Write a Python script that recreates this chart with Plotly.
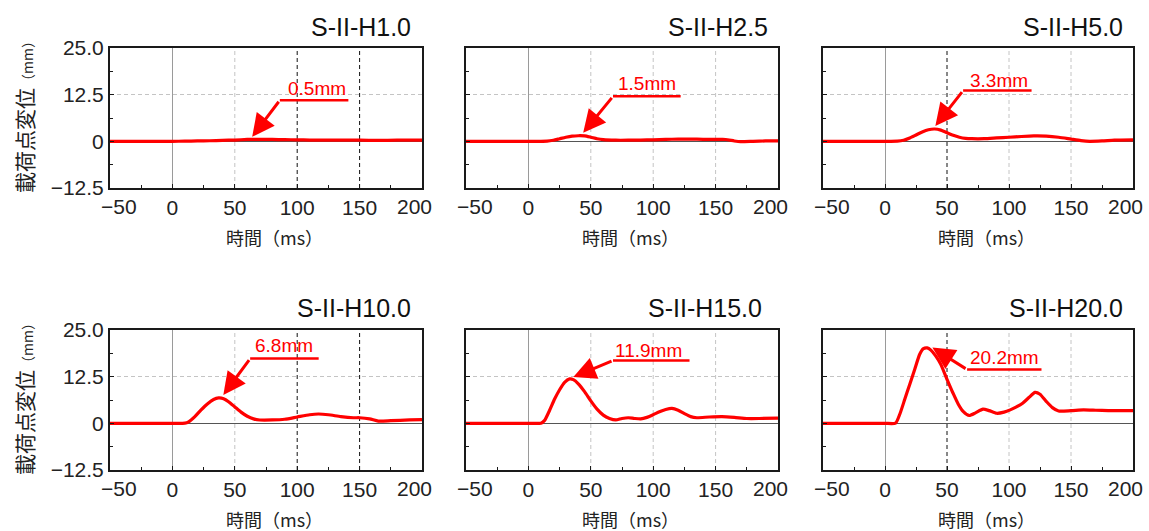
import plotly.graph_objects as go

W, H = 1149, 531

# ---------------- data ----------------
titles = ["S-II-H1.0", "S-II-H2.5", "S-II-H5.0", "S-II-H10.0", "S-II-H15.0", "S-II-H20.0"]
peak_labels = ["0.5mm", "1.5mm", "3.3mm", "6.8mm", "11.9mm", "20.2mm"]

t_h1 = [-50, -30, -10, 0, 10, 20, 30, 40, 50, 60, 70, 80, 90, 100, 110, 120, 135, 150, 165, 180, 200]
d_h1 = [0.0, 0.0, 0.0, 0.0, 0.05, 0.1, 0.15, 0.25, 0.35, 0.5, 0.55, 0.5, 0.45, 0.4, 0.35, 0.3, 0.3, 0.3, 0.25, 0.3, 0.3]

t_h2 = [-50, -20, 0, 10, 15, 20, 25, 30, 35, 40, 45, 50, 55, 60, 70, 80, 90, 100, 110, 120, 130, 140, 150, 158, 165, 170, 180, 190, 200]
d_h2 = [0.0, 0.0, 0.0, 0.0, 0.05, 0.3, 0.7, 1.1, 1.4, 1.5, 1.45, 1.1, 0.7, 0.45, 0.3, 0.3, 0.35, 0.4, 0.5, 0.6, 0.6, 0.55, 0.5, 0.5, 0.1, -0.1, 0.0, 0.1, 0.1]

t_h5 = [-50, -20, 0, 10, 15, 20, 25, 30, 35, 40, 45, 50, 55, 60, 65, 70, 80, 90, 100, 110, 120, 130, 140, 150, 158, 165, 175, 185, 200]
d_h5 = [0.0, 0.0, 0.0, 0.05, 0.3, 0.9, 1.7, 2.5, 3.1, 3.3, 3.0, 2.3, 1.6, 1.1, 0.8, 0.7, 0.7, 0.9, 1.1, 1.3, 1.45, 1.4, 1.1, 0.6, 0.2, 0.0, 0.1, 0.3, 0.4]

t_h10 = [-50, -20, 0, 10, 13, 18, 23, 28, 33, 37, 41, 45, 50, 55, 60, 65, 70, 80, 90, 100, 110, 117, 125, 135, 145, 150, 158, 165, 175, 190, 200]
d_h10 = [0.0, 0.0, 0.0, 0.05, 0.4, 1.8, 3.6, 5.2, 6.4, 6.8, 6.6, 5.8, 4.4, 3.0, 1.9, 1.2, 0.9, 0.9, 1.1, 1.7, 2.3, 2.5, 2.3, 1.8, 1.5, 1.5, 1.2, 0.6, 0.7, 0.9, 1.0]

t_h15 = [-50, -20, 0, 10, 13, 17, 21, 25, 29, 33, 36, 40, 45, 50, 55, 60, 65, 70, 75, 80, 85, 90, 95, 100, 105, 110, 115, 120, 125, 130, 135, 145, 155, 165, 175, 185, 200]
d_h15 = [0.0, 0.0, 0.0, 0.05, 0.8, 3.5, 6.5, 9.0, 11.0, 11.9, 11.7, 10.6, 8.5, 6.0, 3.8, 2.2, 1.3, 0.9, 1.3, 1.5, 1.3, 1.2, 1.6, 2.3, 3.1, 3.7, 4.0, 3.5, 2.6, 1.8, 1.5, 1.7, 1.8, 1.6, 1.3, 1.3, 1.4]

t_h20 = [-50, -20, 0, 8.5, 12, 16, 20, 24, 28, 31, 34, 37, 41, 45, 50, 55, 59, 63, 68, 73, 79, 84, 90, 96, 101, 106, 111, 116, 121, 125, 130, 135, 140, 150, 160, 170, 180, 190, 200]
d_h20 = [0.0, 0.0, 0.0, 0.05, 2.5, 6.5, 10.5, 14.5, 18.5, 20.0, 20.2, 19.6, 18.0, 15.8, 11.8, 8.0, 5.2, 3.2, 2.1, 2.8, 3.8, 3.4, 2.7, 3.0, 3.6, 4.4, 5.4, 6.9, 8.3, 7.8, 5.9, 4.2, 3.3, 3.4, 3.6, 3.5, 3.4, 3.4, 3.4]

series_t = [t_h1, t_h2, t_h5, t_h10, t_h15, t_h20]
series_d = [d_h1, d_h2, d_h5, d_h10, d_h15, d_h20]

x_tickvals = [-50, 0, 50, 100, 150, 200]
x_ticktext = ["\u221250", "0", "50", "100", "150", "200"]
y_tickvals = [-12.5, 0, 12.5, 25]
y_ticktext = ["\u221212.5", "0", "12.5", "25.0"]
x_range = [-50, 200]
y_range = [-12.5, 25]

x_title = "時間（ms）"
y_title = "載荷点変位<span style='font-size:14px'>（mm）</span>"

# vertical reference lines (x in ms): grey dashed grid, some drawn black per panel
grid_x = [50, 100, 150]
black_lines = [[100, 150], [], [50], [100, 150], [], [50]]

# callout geometry per panel: arrow tip, arrow tail (= underline start), underline end x, label centre
callouts = [
    dict(tip=(63.9, 1.2), tail=(86.1, 11.0), end=141.0, label=(115.6, 14.1)),
    dict(tip=(43.9, 2.3), tail=(67.8, 12.05), end=122.0, label=(94.9, 15.5)),
    dict(tip=(40.6, 4.1), tail=(63.0, 13.6), end=118.2, label=(91.8, 16.4)),
    dict(tip=(40.8, 7.6), tail=(62.3, 17.35), end=117.2, label=(89.3, 20.8)),
    dict(tip=(36.0, 12.4), tail=(67.8, 16.8), end=129.1, label=(96.5, 19.6)),
    dict(tip=(38.2, 20.3), tail=(66.2, 14.4), end=126.2, label=(96.6, 17.7)),
]

# ---------------- layout (pixels) ----------------
cols_px = [(110, 422), (466, 778), (823, 1133)]
rows_px = [(48, 188), (330, 470)]
title_right_px = [413, 770, 1125, 413, 764, 1125]
title_y_px = [27, 308]
end_label_shift = {0: 9, 5: -8}   # end tick labels are drawn pulled inward

LATIN = "Liberation Sans, Arial, sans-serif"
CJK = "Noto Sans CJK JP, sans-serif"
RED = "#ff0000"
TICKFONT = dict(family=LATIN, size=21, color="#222222")


def px_x(p):
    return p / W


def px_y(p):
    return 1 - p / H


fig = go.Figure()
annotations = []
shapes = []

for i in range(6):
    r, c = divmod(i, 3)
    k = "" if i == 0 else str(i + 1)
    xa, ya = "x" + k, "y" + k
    x0, x1 = cols_px[c]
    y0, y1 = rows_px[r]

    fig.add_trace(go.Scatter(
        x=series_t[i], y=series_d[i], mode="lines",
        line=dict(color=RED, width=3.2, shape="spline", smoothing=0.6),
        xaxis=xa, yaxis=ya, showlegend=False, hoverinfo="skip"))

    common = dict(showline=True, linecolor="#1a1a1a", linewidth=2, mirror=True,
                  ticks="inside", ticklen=4, tickcolor="#1a1a1a",
                  gridcolor="#c4c4c4", gridwidth=1, griddash="4px,3px",
                  automargin=False, tickfont=TICKFONT)

    inner_text = [t if j not in end_label_shift else "" for j, t in enumerate(x_ticktext)]
    fig.layout["xaxis" + k] = dict(
        domain=[px_x(x0), px_x(x1)], anchor=ya, range=x_range,
        tickvals=x_tickvals, ticktext=inner_text, showgrid=False,
        zeroline=True, zerolinecolor="#9a9a9a", zerolinewidth=1,
        minor=dict(ticks="inside", ticklen=3, tickcolor="#1a1a1a", dtick=25, tick0=-25, showgrid=False),
        **common)
    fig.layout["yaxis" + k] = dict(
        domain=[px_y(y1), px_y(y0)], anchor=xa, range=y_range, showgrid=True,
        tickvals=y_tickvals, ticktext=y_ticktext, showticklabels=(c == 0),
        zeroline=True, zerolinecolor="#555555", zerolinewidth=1,
        minor=dict(ticks="inside", ticklen=3, tickcolor="#1a1a1a", dtick=6.25, tick0=0, showgrid=False),
        **common)

    # end tick labels, pulled inward as in the reference
    for j, sh in end_label_shift.items():
        annotations.append(dict(text=x_ticktext[j], x=x_tickvals[j], xref=xa,
                                y=0, yref=ya + " domain", xanchor="center", yanchor="top",
                                xshift=sh, yshift=-5, showarrow=False, font=TICKFONT))

    for xv in grid_x:
        is_black = xv in black_lines[i]
        shapes.append(dict(type="line", xref=xa, yref=ya + " domain", x0=xv, x1=xv, y0=0, y1=1,
                           line=dict(color="#111111" if is_black else "#c4c4c4", width=1,
                                     dash="4px,3px"),
                           layer="below"))

    # title
    annotations.append(dict(text=titles[i], xref="paper", yref="paper",
                            x=px_x(title_right_px[i]), y=px_y(title_y_px[r]),
                            xanchor="right", yanchor="middle", showarrow=False,
                            font=dict(family=LATIN, size=25, color="#111111")))
    # x axis title
    annotations.append(dict(text=x_title, xref="paper", yref="paper",
                            x=px_x((x0 + x1) / 2 + 8), y=px_y(y1 + 49),
                            xanchor="center", yanchor="middle", showarrow=False,
                            font=dict(family=CJK, size=18, color="#222222")))
    if c == 0:
        annotations.append(dict(text=y_title, xref="paper", yref="paper",
                                x=px_x(24), y=px_y((y0 + y1) / 2 - 4),
                                xanchor="center", yanchor="middle", showarrow=False, textangle=-90,
                                font=dict(family=CJK, size=21, color="#222222")))

    co = callouts[i]
    annotations.append(dict(text="", x=co["tip"][0], y=co["tip"][1], xref=xa, yref=ya,
                            ax=co["tail"][0], ay=co["tail"][1], axref=xa, ayref=ya,
                            showarrow=True, arrowhead=2, arrowsize=1.5, arrowwidth=3,
                            arrowcolor=RED, standoff=0))
    shapes.append(dict(type="line", xref=xa, yref=ya, x0=co["tail"][0], x1=co["end"],
                       y0=co["tail"][1], y1=co["tail"][1], line=dict(color=RED, width=2.5),
                       layer="above"))
    annotations.append(dict(text=peak_labels[i], x=co["label"][0], y=co["label"][1],
                            xref=xa, yref=ya, showarrow=False, xanchor="center", yanchor="middle",
                            font=dict(family=LATIN, size=19, color=RED)))

fig.update_layout(width=W, height=H, margin=dict(l=0, r=0, t=0, b=0, autoexpand=False),
                  paper_bgcolor="white", plot_bgcolor="white",
                  annotations=annotations, shapes=shapes)

fig.write_html("out.html")
